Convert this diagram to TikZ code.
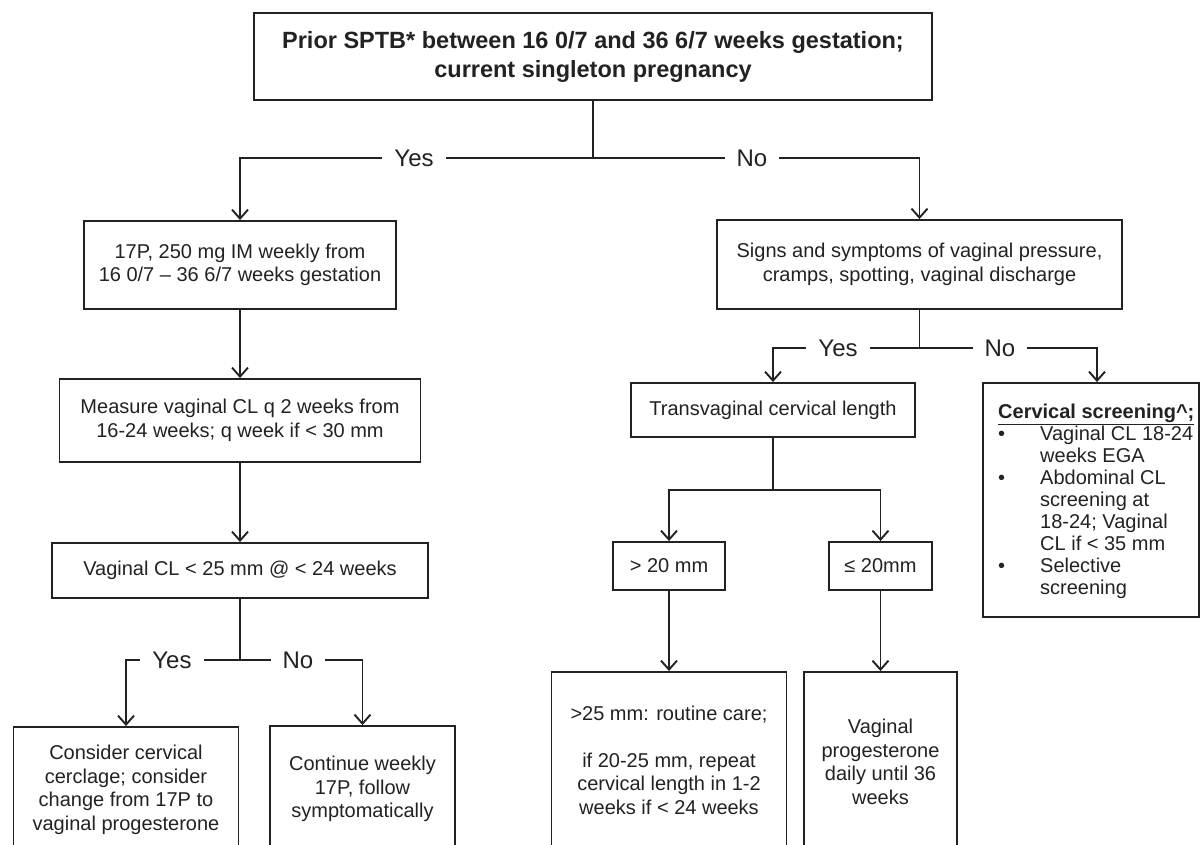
\documentclass[tikz,border=0pt]{standalone}
\usepackage{fontspec}
\setmainfont{Liberation Sans}
\usetikzlibrary{arrows.meta}
\definecolor{ink}{HTML}{222222}
\begin{document}
\begin{tikzpicture}[x=1pt,y=-1pt,
  nbox/.style={draw=ink, line width=1.9pt, rectangle, inner sep=0pt, align=center, text=ink, font=\fontsize{20}{23.5}\selectfont},
  lab/.style={fill=white, text=ink, inner xsep=12pt, inner ysep=1pt, font=\fontsize{24}{28}\selectfont},
  conn/.style={draw=ink, line width=1.9pt},
  arr/.style={conn, -{Straight Barb[length=9pt,width=16pt]}}
]
\useasboundingbox (0,0) rectangle (1200,845);
\clip (0,0) rectangle (1200,845);
\fill[white] (0,0) rectangle (1200,845);

% boxes
\node[nbox, minimum width=678pt, minimum height=87pt, font=\bfseries\fontsize{23.5}{29}\selectfont] (top) at (593,56.5) {Prior SPTB* between 16 0/7 and 36 6/7 weeks gestation;\\current singleton pregnancy};
\node[nbox, minimum width=312pt, minimum height=88pt] (p17) at (240,265) {17P, 250 mg IM weekly from\\16 0/7 – 36 6/7 weeks gestation};
\node[nbox, minimum width=361pt, minimum height=83pt] (meas) at (240,420.5) {Measure vaginal CL q 2 weeks from\\16-24 weeks; q week if < 30 mm};
\node[nbox, minimum width=376pt, minimum height=55pt] (vcl) at (240,570.5) {Vaginal CL < 25 mm @ < 24 weeks};
\node[nbox, minimum width=225pt, minimum height=126pt] (cc) at (126,790) {Consider cervical\\cerclage; consider\\change from 17P to\\vaginal progesterone};
\node[nbox, minimum width=185pt, minimum height=126pt] (cw) at (362.5,789) {Continue weekly\\17P, follow\\symptomatically};

\node[nbox, minimum width=405pt, minimum height=89pt] (signs) at (919.5,264.5) {Signs and symptoms of vaginal pressure,\\cramps, spotting, vaginal discharge};
\node[nbox, minimum width=284pt, minimum height=54pt] (tv) at (773,410) {Transvaginal cervical length};
\node[nbox, minimum width=112pt, minimum height=48pt] (gt) at (669,566) {> 20 mm};
\node[nbox, minimum width=103pt, minimum height=48pt] (le) at (880.5,566) {≤ 20mm};
\node[nbox, minimum width=235pt, minimum height=176pt] (rc) at (669,760) {>25 mm: routine care;\\[23.5pt]if 20-25 mm, repeat\\cervical length in 1-2\\weeks if < 24 weeks};
\node[nbox, minimum width=153pt, minimum height=180pt] (vp) at (880.5,762) {Vaginal\\progesterone\\daily until 36\\weeks};
\node[nbox, minimum width=216pt, minimum height=234pt] (cs) at (1091,500) {};
\node[anchor=north west, align=left, text=ink, inner sep=0pt, font=\fontsize{20}{22}\selectfont] (cst) at (998,404)
 {{\bfseries\underline{Cervical screening\textasciicircum;}}\\
  \makebox[42pt][l]{•}Vaginal CL 18-24\\
  \hspace*{42pt}weeks EGA\\
  \makebox[42pt][l]{•}Abdominal CL\\
  \hspace*{42pt}screening at\\
  \hspace*{42pt}18-24; Vaginal\\
  \hspace*{42pt}CL if < 35 mm\\
  \makebox[42pt][l]{•}Selective\\
  \hspace*{42pt}screening};

% junction points
\coordinate (j0) at (593,158);
\coordinate (yL) at (240,158);
\coordinate (nR) at (919.5,158);
\coordinate (j2) at (240,660);
\coordinate (yL2) at (126,660);
\coordinate (nR2) at (362.5,660);
\coordinate (j3) at (919.5,348);
\coordinate (yL3) at (773,348);
\coordinate (nR3) at (1097,348);
\coordinate (j4) at (773,490);
\coordinate (l4) at (669,490);
\coordinate (r4) at (880.5,490);

% connectors
\draw[conn] (top.south) -- (j0);
\draw[arr] (j0) -- (yL) -- (p17.north);
\draw[arr] (j0) -- (nR) -- (signs.north);
\draw[arr] (p17.south) -- (meas.north);
\draw[arr] (meas.south) -- (vcl.north);
\draw[conn] (vcl.south) -- (j2);
\draw[arr] (j2) -- (yL2) -- (cc.north);
\draw[arr] (j2) -- (nR2) -- (cw.north);

\draw[conn] (signs.south) -- (j3);
\draw[arr] (j3) -- (yL3) -- (tv.north);
\draw[arr] (j3) -- (nR3) -- (nR3 |- cs.north);
\draw[conn] (tv.south) -- (j4);
\draw[arr] (j4) -- (l4) -- (gt.north);
\draw[arr] (j4) -- (r4) -- (le.north);
\draw[arr] (gt.south) -- (rc.north);
\draw[arr] (le.south) -- (vp.north);

% labels
\node[lab] (yes1) at (414,158) {Yes};
\node[lab] (no1) at (752,158) {No};
\node[lab] (yes2) at (172,660) {Yes};
\node[lab] (no2) at (298,660) {No};
\node[lab] (yes3) at (838,348) {Yes};
\node[lab] (no3) at (1000,348) {No};
\end{tikzpicture}
\end{document}
